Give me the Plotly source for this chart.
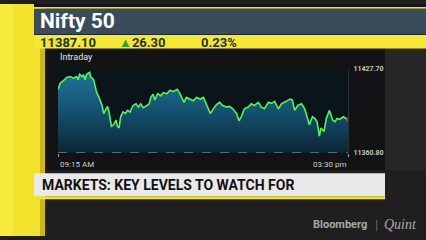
import plotly.graph_objects as go

# ---- data ----
minutes_since_open = [0, 3, 7, 11, 16, 20, 24, 26, 28, 31, 33, 35, 37, 41, 42, 46, 48, 50, 53, 57,
                      59, 61, 64, 66, 69, 72, 75, 77, 79, 81, 84, 87, 90, 93, 97, 101, 104, 107, 110, 115,
                      118, 120, 123, 125, 129, 133, 136, 141, 145, 149, 154, 157, 160, 163, 166, 171, 175, 179, 184, 188,
                      192, 197, 201, 205, 209, 213, 218, 222, 226, 231, 234, 237, 241, 246, 250, 254, 259, 263, 267, 272,
                      276, 280, 285, 289, 295, 300, 303, 306, 310, 315, 319, 322, 325, 329, 332, 335, 338, 340, 344, 347,
                      351, 355, 358, 361, 364, 369, 372, 375]
nifty_values = [11411.3, 11416.4, 11418.2, 11420.8, 11421.5, 11420.2, 11421.5, 11419.0, 11423.3, 11421.5,
                11422.9, 11419.0, 11423.3, 11424.9, 11421.5, 11419.0, 11413.9, 11408.7, 11404.9, 11398.5,
                11392.1, 11394.6, 11397.7, 11393.3, 11381.8, 11383.1, 11386.9, 11381.8, 11380.6, 11389.5,
                11393.3, 11392.1, 11394.6, 11393.3, 11398.5, 11399.8, 11397.2, 11399.8, 11396.7, 11398.5,
                11399.8, 11404.9, 11407.5, 11402.9, 11407.9, 11406.2, 11408.7, 11407.9, 11410.6, 11409.5,
                11411.3, 11408.7, 11404.9, 11401.0, 11404.9, 11403.6, 11402.3, 11404.9, 11403.6, 11404.9,
                11399.8, 11392.1, 11396.0, 11399.2, 11401.0, 11398.5, 11397.2, 11397.7, 11395.9, 11392.1,
                11386.4, 11389.5, 11395.9, 11397.2, 11399.8, 11398.5, 11401.0, 11397.2, 11395.9, 11401.0,
                11400.2, 11401.8, 11395.9, 11399.8, 11401.8, 11403.6, 11402.9, 11394.6, 11398.5, 11399.8,
                11395.9, 11389.5, 11383.1, 11389.5, 11388.2, 11385.6, 11374.1, 11380.6, 11377.9, 11388.2,
                11394.6, 11386.9, 11385.6, 11388.2, 11387.5, 11389.5, 11388.2, 11387.1]
day_high = 11427.70
day_low = 11360.80
range_labels = ["11427.70", "11360.80"]
time_labels = ["09:15 AM", "03:30 pm"]
session_minutes = [0, 375]

title_text = "Nifty 50"
last_price = "11387.10"
change_pts = "26.30"
change_pct = "0.23%"
banner_text = "MARKETS: KEY LEVELS TO WATCH FOR"

W, H = 426, 240
def px(x):
    return x / W
def py(y):
    return 1 - y / H

fig = go.Figure()

fig.add_trace(go.Scatter(
    x=minutes_since_open, y=nifty_values, mode="lines",
    line=dict(color="#57f25a", width=1.6),
    fill="tozeroy",
    fillgradient=dict(type="vertical", start=day_low, stop=day_high,
                      colorscale=[[0, "#0c2330"], [0.55, "#155475"], [1, "#1e789e"]]),
    hoverinfo="skip", showlegend=False,
))
fig.add_trace(go.Scatter(
    x=[minutes_since_open[-1]], y=[nifty_values[-1]], mode="markers",
    marker=dict(color="#d4334f", size=4), hoverinfo="skip", showlegend=False,
))

shapes = []
def rect(x0, y0, x1, y1, color):
    shapes.append(dict(type="rect", xref="paper", yref="paper",
                       x0=px(x0), x1=px(x1), y0=py(y1), y1=py(y0),
                       fillcolor=color, line=dict(width=0), layer="below"))

# background panels
rect(0, 0, 426, 240, "#1f1f1f")
rect(385, 46, 426, 172, "#272727")
rect(45, 46, 385, 172, "#111315")
# yellow left strip
rect(0, 0, 45, 240, "#f3e22b")
rect(0, 0, 13, 240, "#f8ea3a")
rect(40, 0, 45, 240, "#c9b91f")
# top bars
rect(34, 0, 426, 3, "#151515")
rect(34, 3, 426, 5, "#f3e22b")
rect(34, 5, 426, 31, "#3a4c5b")
rect(34, 31, 426, 32, "#1e2a20")
rect(34, 32, 426, 46, "#f6e832")
# banner
rect(34, 175, 385, 199, "#e9e9e9")
rect(34, 199, 385, 202, "#f3e22b")

# plot background
shapes.append(dict(type="rect", xref="x domain", yref="y domain", x0=0, x1=1, y0=0, y1=1,
                   fillcolor="#0a151a", line=dict(width=0), layer="below"))
# dashed low line
shapes.append(dict(type="line", xref="x domain", yref="y", x0=0, x1=1, y0=day_low, y1=day_low,
                   line=dict(color="#8fa6b3", width=1.2, dash="dash"), layer="above"))

annotations = [
    dict(text="<b>" + title_text + "</b>", x=px(38), y=py(18), xanchor="left", yanchor="middle",
         font=dict(family="Roboto", size=21, color="#ffffff")),
    dict(text="<b>" + last_price + "</b>", x=px(38), y=py(39.5), xanchor="left", yanchor="middle",
         font=dict(family="Roboto", size=13, color="#1f3318")),
    dict(text="<span style='color:#2ea332'>▲</span><b>" + change_pts + "</b>", x=px(117), y=py(39.5),
         xanchor="left", yanchor="middle", font=dict(family="Roboto", size=13, color="#1f3318")),
    dict(text="<b>" + change_pct + "</b>", x=px(199), y=py(39.5), xanchor="left", yanchor="middle",
         font=dict(family="Roboto", size=13, color="#1f3318")),
    dict(text="Intraday", x=px(58), y=py(55), xanchor="left", yanchor="middle",
         font=dict(family="Roboto", size=9, color="#e6e6e6")),
    dict(text=time_labels[0], x=session_minutes[0], xref="x", y=py(166), yref="paper",
         xanchor="left", yanchor="middle", font=dict(family="Roboto", size=8, color="#cfcfcf")),
    dict(text=time_labels[1], x=session_minutes[1], xref="x", y=py(166), yref="paper",
         xanchor="right", yanchor="middle", font=dict(family="Roboto", size=8, color="#cfcfcf")),
    dict(text="<b>" + banner_text + "</b>", x=px(40), y=py(187.5), xanchor="left", yanchor="middle",
         font=dict(family="Roboto", size=14, color="#111111")),
    dict(text="<b>Bloomberg</b>", x=px(369), y=py(228), xanchor="right", yanchor="middle",
         font=dict(family="Roboto", size=11, color="#a9a9a9")),
    dict(text="|", x=px(376), y=py(228), xanchor="center", yanchor="middle",
         font=dict(family="Roboto", size=13, color="#6a6a6a")),
    dict(text="Quint", x=px(382), y=py(228), xanchor="left", yanchor="middle",
         font=dict(family="Liberation Serif", size=14, color="#a9a9a9", style="italic")),
]
for a in annotations:
    a.setdefault("xref", "paper")
    a.setdefault("yref", "paper")
    a["showarrow"] = False

fig.update_layout(
    width=W, height=H, margin=dict(l=0, r=0, t=0, b=0),
    paper_bgcolor="#1f1f1f", plot_bgcolor="rgba(0,0,0,0)",
    shapes=shapes, annotations=annotations, showlegend=False,
    xaxis=dict(domain=[px(58), px(348)], range=[0, 375], showgrid=False, zeroline=False,
               tickvals=session_minutes, ticktext=["", ""], ticks="outside", ticklen=3,
               tickcolor="#9aa9b3", tickwidth=1, showline=False, fixedrange=True),
    yaxis=dict(domain=[py(154), py(67)], range=[day_low, day_high], side="right",
               showgrid=False, zeroline=False, tickvals=[day_high, day_low], ticktext=range_labels,
               ticks="outside", ticklen=3, tickcolor="rgba(0,0,0,0)",
               showline=True, linecolor="#2b3338", linewidth=1,
               tickfont=dict(family="Roboto", size=7, color="#c4c4c4", weight="bold"),
               fixedrange=True),
)

fig.write_html("out.html")
